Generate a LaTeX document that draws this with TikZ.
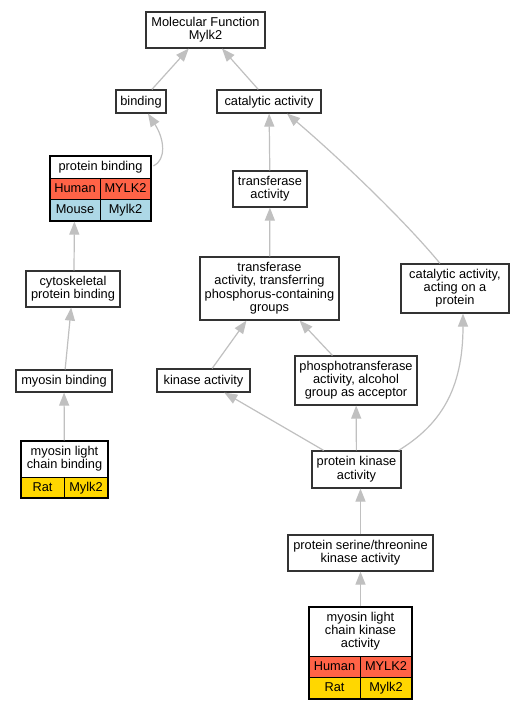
\documentclass[tikz,border=0pt]{standalone}
\usepackage{fontspec}
\setmainfont{Liberation Sans}
\usetikzlibrary{arrows.meta,calc}
\definecolor{edgegray}{HTML}{C0C0C0}
\definecolor{boxgray}{HTML}{333333}
\definecolor{tomatoc}{HTML}{FF6347}
\definecolor{bluec}{HTML}{ADD8E6}
\definecolor{goldc}{HTML}{FFD700}
\newcommand{\gofont}{\fontsize{12.8}{13.3}\selectfont}
\newcommand{\gostrut}{\rule[-3.15pt]{0pt}{13.3pt}}
\tikzset{
  gobox/.style={draw=boxgray, line width=1.2pt, fill=white, inner sep=0pt, align=center, font=\gofont, text=black,
    execute at begin node=\gostrut, execute at end node=\gostrut},
  cell/.style={draw=black, line width=0.9pt, inner sep=0pt, align=center, font=\gofont, text=black,
    execute at begin node=\gostrut, execute at end node=\gostrut},
  frame/.style={draw=black, line width=1.2pt, inner sep=0pt},
  goedge/.style={draw=edgegray, line width=1.2pt, -{Triangle[length=13pt,width=10pt]}}
}
\begin{document}
\begin{tikzpicture}[x=1pt,y=-1pt]
\useasboundingbox[fill=white] (0,0) rectangle (529,709);
% simple nodes
\node[gobox, minimum width=119pt, minimum height=36pt] (mf) at (205.5,30) {Molecular Function\\Mylk2};
\node[gobox, minimum width=50pt, minimum height=23pt] (binding) at (141,101.5) {binding};
\node[gobox, minimum width=104pt, minimum height=23pt] (cat) at (269,101.5) {catalytic activity};
\node[gobox, minimum width=74pt, minimum height=36pt] (ta) at (270,189) {transferase\\activity};
\node[gobox, minimum width=94pt, minimum height=36pt] (cyto) at (73,289) {cytoskeletal\\protein binding};
\node[gobox, minimum width=139pt, minimum height=63pt] (ttpcg) at (269.5,288.5) {transferase\\activity, transferring\\phosphorus-containing\\groups};
\node[gobox, minimum width=108pt, minimum height=49pt] (capr) at (455,288.5) {catalytic activity,\\acting on a\\protein};
\node[gobox, minimum width=96pt, minimum height=22pt] (mb) at (64,381) {myosin binding};
\node[gobox, minimum width=93pt, minimum height=23pt] (ka) at (203.5,380.5) {kinase activity};
\node[gobox, minimum width=122pt, minimum height=49pt] (pt) at (356,380.5) {phosphotransferase\\activity, alcohol\\group as acceptor};
\node[gobox, minimum width=89pt, minimum height=37pt] (pka) at (356.5,469.5) {protein kinase\\activity};
\node[gobox, minimum width=145pt, minimum height=36pt] (pst) at (360.5,553) {protein serine/threonine\\kinase activity};
% protein binding table
\node[cell, fill=white, minimum width=101pt, minimum height=22pt] (pbh) at (100.5,167) {protein binding};
\node[cell, fill=tomatoc, minimum width=50pt, minimum height=21pt] (pbc1) at (75,188.5) {Human};
\node[cell, fill=tomatoc, minimum width=51pt, minimum height=21pt] (pbc2) at (125.5,188.5) {MYLK2};
\node[cell, fill=bluec, minimum width=50pt, minimum height=22pt] (pbc3) at (75,210) {Mouse};
\node[cell, fill=bluec, minimum width=51pt, minimum height=22pt] (pbc4) at (125.5,210) {Mylk2};
\node[frame, minimum width=101pt, minimum height=65pt] (pb) at (100.5,188.5) {};
% myosin light chain binding table
\node[cell, fill=white, minimum width=87pt, minimum height=36pt] (mlcbh) at (64.5,459) {myosin light\\chain binding};
\node[cell, fill=goldc, minimum width=43pt, minimum height=21pt] (mlcbc1) at (42.5,487.5) {Rat};
\node[cell, fill=goldc, minimum width=44pt, minimum height=21pt] (mlcbc2) at (86,487.5) {Mylk2};
\node[frame, minimum width=87pt, minimum height=57pt] (mlcb) at (64.5,469.5) {};
% myosin light chain kinase activity table
\node[cell, fill=white, minimum width=103pt, minimum height=49pt] (mlckah) at (360.5,631.5) {myosin light\\chain kinase\\activity};
\node[cell, fill=tomatoc, minimum width=51pt, minimum height=21pt] (mlckac1) at (334.5,666.5) {Human};
\node[cell, fill=tomatoc, minimum width=52pt, minimum height=21pt] (mlckac2) at (386,666.5) {MYLK2};
\node[cell, fill=goldc, minimum width=51pt, minimum height=22pt] (mlckac3) at (334.5,688) {Rat};
\node[cell, fill=goldc, minimum width=52pt, minimum height=22pt] (mlckac4) at (386,688) {Mylk2};
\node[frame, minimum width=103pt, minimum height=92pt] (mlcka) at (360.5,653) {};
% edges
\draw[goedge] (binding) -- (mf);
\draw[goedge] (cat) -- (mf);
\draw[goedge] (ta) -- (cat);
\draw[goedge] (ttpcg) -- (ta);
\draw[goedge] ($(pbh.east)+(2,-1)$) .. controls (166,160) and (165,140) .. ($(binding.south)+(7,0)$);
\draw[goedge] ($(capr.north)+(-15,0)$) .. controls (400,215) and (330,150) .. ($(cat.south)+(18,0)$);
\draw[goedge] ($(cyto.north)+(1,0)$) -- ($(pb.south west)+(25,0)$);
\draw[goedge] (mb) -- (cyto);
\draw[goedge] (mlcb) -- (mb);
\draw[goedge] (ka) -- (ttpcg);
\draw[goedge] (pt) -- (ttpcg);
\draw[goedge] (pka) -- (ka);
\draw[goedge] (pka) -- (pt);
\draw[goedge] ($(pka.north east)+(-3,0)$) .. controls (440,425) and (463,390) .. ($(capr.south)+(8,0)$);
\draw[goedge] (pst.north) -- (pst.north |- pka.south);
\draw[goedge] (mlcka) -- (pst);
\end{tikzpicture}
\end{document}
